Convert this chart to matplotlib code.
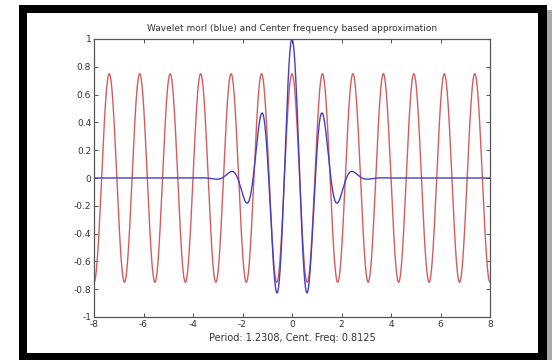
import matplotlib
matplotlib.use('Agg')
import matplotlib.pyplot as plt
import numpy as np
from matplotlib.patches import Rectangle

# values
X_MIN, X_MAX = -8, 8
PERIOD = 1.2308
CENT_FREQ = 0.8125
APPROX_AMP = 0.75
X_TICKS = [-8, -6, -4, -2, 0, 2, 4, 6, 8]
Y_TICKS = [-1, -0.8, -0.6, -0.4, -0.2, 0, 0.2, 0.4, 0.6, 0.8, 1]
Y_LABELS = ['-1', '-0.8', '-0.6', '-0.4', '-0.2', '0', '0.2', '0.4', '0.6', '0.8', '1']
TITLE = 'Wavelet morl (blue) and Center frequency based approximation'
XLABEL = f'Period: {PERIOD}, Cent. Freq: {CENT_FREQ}'

x = np.linspace(X_MIN, X_MAX, 2000)
psi = np.exp(-x ** 2 / 2) * np.cos(5 * x)            # morlet wavelet
approx = APPROX_AMP * np.cos(2 * np.pi * CENT_FREQ * x)

fig = plt.figure(figsize=(5.52, 3.60), dpi=100)

# framed picture: grey shadow, black border, white inside
fig.patches.append(Rectangle((547 / 552, 0), 5 / 552, 350 / 360, transform=fig.transFigure,
                             facecolor='#a8a8a8', edgecolor='none', zorder=-3))
fig.patches.append(Rectangle((19 / 552, 0), 528 / 552, 355 / 360, transform=fig.transFigure,
                             facecolor='black', edgecolor='none', zorder=-2))
fig.patches.append(Rectangle((27 / 552, 7 / 360), 511 / 552, 340 / 360, transform=fig.transFigure,
                             facecolor='white', edgecolor='none', zorder=-1))

ax = fig.add_axes([94 / 552, 1 - 317 / 360, 396 / 552, 278 / 360])
ax.set_facecolor('white')
ax.plot(x, approx, color='#d65c5c', linewidth=1.0)
ax.plot(x, psi, color='#4040c8', linewidth=1.0)

ax.set_xlim(X_MIN, X_MAX)
ax.set_ylim(-1, 1)
ax.set_xticks(X_TICKS)
ax.set_xticklabels([str(t) for t in X_TICKS])
ax.set_yticks(Y_TICKS)
ax.set_yticklabels(Y_LABELS)
ax.tick_params(direction='in', length=3, width=0.7, top=True, right=True,
               labelsize=6.5, colors='#555555', labelcolor='#333333', pad=2)
for s in ax.spines.values():
    s.set_color('#555555')
    s.set_linewidth(0.9)
ax.set_title(TITLE, fontsize=6.5, color='#333333', pad=6)
ax.set_xlabel(XLABEL, fontsize=7, color='#333333', labelpad=3)

fig.savefig('out.png', dpi=100)
